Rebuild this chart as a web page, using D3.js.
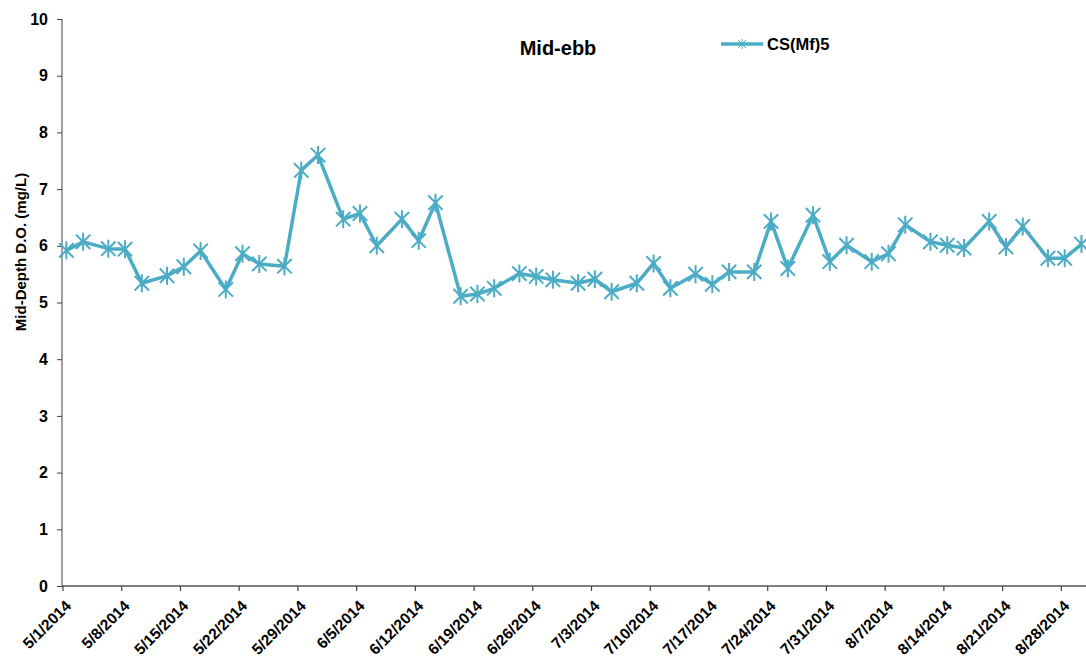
<!DOCTYPE html>
<html>
<head>
<meta charset="utf-8">
<script src="https://cdn.jsdelivr.net/npm/d3@7"></script>
<style>
  html, body { margin: 0; padding: 0; background: #fff; }
  svg { display: block; font-family: "Liberation Sans", Arial, sans-serif; }
</style>
</head>
<body>
<svg id="chart" width="1086" height="659"></svg>
<script>
// ---- data ----
const sampleDates = [
  "2014-05-01","2014-05-03","2014-05-06","2014-05-08","2014-05-10","2014-05-13","2014-05-15","2014-05-17",
  "2014-05-20","2014-05-22","2014-05-24","2014-05-27","2014-05-29","2014-05-31","2014-06-03","2014-06-05",
  "2014-06-07","2014-06-10","2014-06-12","2014-06-14","2014-06-17","2014-06-19","2014-06-21","2014-06-24",
  "2014-06-26","2014-06-28","2014-07-01","2014-07-03","2014-07-05","2014-07-08","2014-07-10","2014-07-12",
  "2014-07-15","2014-07-17","2014-07-19","2014-07-22","2014-07-24","2014-07-26","2014-07-29","2014-07-31",
  "2014-08-02","2014-08-05","2014-08-07","2014-08-09","2014-08-12","2014-08-14","2014-08-16","2014-08-19",
  "2014-08-21","2014-08-23","2014-08-26","2014-08-28","2014-08-30"
];
const sampleTime = "11:00";
const doValues = [
  5.92, 6.07, 5.95, 5.94, 5.34, 5.47, 5.63, 5.91,
  5.23, 5.86, 5.68, 5.64, 7.33, 7.60, 6.47, 6.57,
  6.00, 6.47, 6.09, 6.76, 5.11, 5.15, 5.25, 5.51,
  5.46, 5.40, 5.34, 5.41, 5.19, 5.34, 5.69, 5.25,
  5.50, 5.32, 5.54, 5.54, 6.43, 5.60, 6.54, 5.72,
  6.01, 5.72, 5.86, 6.37, 6.07, 6.01, 5.96, 6.43,
  5.98, 6.34, 5.78, 5.78, 6.03
];
const seriesName = "CS(Mf)5";
const chartTitle = "Mid-ebb";
const yTitle = "Mid-Depth D.O. (mg/L)";
const xDomain = ["2014-05-01", "2014-08-31"];
const xTickDates = [
  "2014-05-01","2014-05-08","2014-05-15","2014-05-22","2014-05-29","2014-06-05","2014-06-12","2014-06-19",
  "2014-06-26","2014-07-03","2014-07-10","2014-07-17","2014-07-24","2014-07-31","2014-08-07","2014-08-14",
  "2014-08-21","2014-08-28"
];
const yTicks = [0,1,2,3,4,5,6,7,8,9,10];

// ---- drawing ----
const pDay = d3.timeParse("%Y-%m-%d");
const pDT = d3.timeParse("%Y-%m-%d %H:%M");
const fmt = d => (d.getMonth()+1) + "/" + d.getDate() + "/" + d.getFullYear();
const color = "#4bacc6";

const svg = d3.select("#chart");
const x = d3.scaleTime().domain(xDomain.map(pDay)).range([62.5, 1086]);
const y = d3.scaleLinear().domain([0, 10]).range([586, 19]);

const data = sampleDates.map((d, i) => ({ date: pDT(d + " " + sampleTime), v: doValues[i] }));

// y axis
const yAxis = svg.append("g").attr("transform", "translate(62,0)")
  .call(d3.axisLeft(y).tickValues(yTicks).tickSize(5).tickPadding(9).tickFormat(d3.format("d")));
yAxis.select(".domain").attr("stroke", "#808080").attr("stroke-width", 1.5).attr("d", "M0,586V19");
yAxis.selectAll(".tick line").attr("stroke", "#404040").attr("stroke-width", 1);
yAxis.selectAll(".tick text").attr("font-size", 16).attr("font-weight", "bold").attr("fill", "#000");

// x axis
const xAxis = svg.append("g").attr("transform", "translate(0,586)")
  .call(d3.axisBottom(x).tickValues(xTickDates.map(pDay)).tickSize(5).tickFormat(fmt));
xAxis.select(".domain").attr("stroke", "#808080").attr("stroke-width", 2).attr("d", "M62,0H1086");
xAxis.selectAll(".tick line").attr("stroke", "#404040").attr("stroke-width", 1.2);
xAxis.selectAll(".tick text")
  .attr("font-size", 15.5).attr("font-weight", "bold").attr("fill", "#000")
  .attr("text-anchor", "end").attr("dy", null).attr("y", null)
  .attr("transform", "translate(9,21) rotate(-45)");

// y title
svg.append("text")
  .attr("transform", "translate(25.5,252) rotate(-90)")
  .attr("text-anchor", "middle")
  .attr("font-size", 15).attr("font-weight", "bold").attr("fill", "#000")
  .text(yTitle);

// title
svg.append("text")
  .attr("x", 558).attr("y", 55).attr("text-anchor", "middle")
  .attr("font-size", 20).attr("font-weight", "bold").attr("fill", "#000")
  .text(chartTitle);

// line
const line = d3.line().x(d => x(d.date)).y(d => y(d.v));
svg.append("path").datum(data)
  .attr("fill", "none").attr("stroke", color).attr("stroke-width", 3.5)
  .attr("stroke-linejoin", "round").attr("d", line);

// asterisk markers
function star(r) {
  const a = r * 0.8;
  return `M${-a},${-a}L${a},${a}M${-a},${a}L${a},${-a}M0,${-r}V${r}`;
}
svg.append("g").selectAll("path").data(data).join("path")
  .attr("transform", d => `translate(${x(d.date)},${y(d.v)})`)
  .attr("d", star(9))
  .attr("fill", "none").attr("stroke", color).attr("stroke-width", 2);

// legend
const lg = svg.append("g");
lg.append("line").attr("x1", 721).attr("x2", 763).attr("y1", 44).attr("y2", 44)
  .attr("stroke", color).attr("stroke-width", 3.5);
lg.append("path").attr("transform", "translate(742,44)").attr("d", star(5))
  .attr("fill", "none").attr("stroke", color).attr("stroke-width", 1);
lg.append("text").attr("x", 767).attr("y", 49.5)
  .attr("font-size", 16.5).attr("font-weight", "bold").attr("fill", "#000")
  .text(seriesName);
</script>
</body>
</html>
